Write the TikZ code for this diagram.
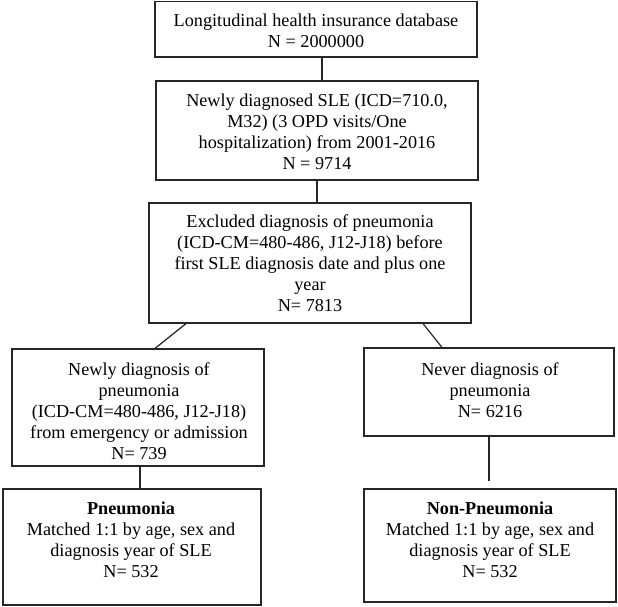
\documentclass[tikz,border=0pt]{standalone}
\usepackage{fontspec}
\setmainfont{Liberation Serif}
\begin{document}
\begin{tikzpicture}[x=1pt,y=-1pt,
  box/.style={draw=black!85, line width=1.2pt, inner sep=0pt, rectangle},
  txt/.style={align=center, font=\fontsize{18.2}{20.9}\selectfont, inner sep=0pt, text=black},
  conn/.style={draw=black!85, line width=1.2pt}]
\useasboundingbox (0,0) rectangle (618,606);
% boxes
\node[box, minimum width=322pt, minimum height=55.5pt] (b1) at (316,29.25) {};
\node[box, minimum width=322pt, minimum height=99pt]   (b2) at (317,130.5) {};
\node[box, minimum width=322pt, minimum height=120pt]  (b3) at (310,263) {};
\node[box, minimum width=252pt, minimum height=117pt]  (lc) at (138,407.5) {};
\node[box, minimum width=250pt, minimum height=88pt]   (rc) at (489,392) {};
\node[box, minimum width=258pt, minimum height=116pt]  (pn) at (132,547) {};
\node[box, minimum width=252pt, minimum height=113pt]  (np) at (490,545.5) {};
% texts
\node[txt] (t1) at (316,31) {Longitudinal health insurance database\\N = 2000000};
\node[txt] (t2) at (317,132) {Newly diagnosed SLE (ICD=710.0,\\M32) (3 OPD visits/One\\hospitalization) from 2001-2016\\N = 9714};
\node[txt] (t3) at (310,263) {Excluded diagnosis of pneumonia\\(ICD-CM=480-486, J12-J18) before\\first SLE diagnosis date and plus one\\year\\N= 7813};
\node[txt] (tl) at (139,411) {Newly diagnosis of\\pneumonia\\(ICD-CM=480-486, J12-J18)\\from emergency or admission\\N= 739};
\node[txt] (tr) at (490,390) {Never diagnosis of\\pneumonia\\N= 6216};
\node[txt] (tp) at (131,540) {\textbf{Pneumonia}\\Matched 1:1 by age, sex and\\diagnosis year of SLE\\N= 532};
\node[txt] (tn) at (490,540) {\textbf{Non-Pneumonia}\\Matched 1:1 by age, sex and\\diagnosis year of SLE\\N= 532};
% connectors
\draw[conn] ([xshift=6pt]b1.south) -- ([xshift=6pt]b1.south |- b2.north);
\draw[conn] (b2.south) -- (b2.south |- b3.north);
\draw[conn] ([xshift=-124pt]b3.south) -- ([xshift=17pt]lc.north);
\draw[conn] ([xshift=113pt]b3.south) -- ([xshift=-47pt]rc.north);
\draw[conn] ([xshift=2pt]lc.south) -- ([xshift=2pt]lc.south |- pn.north);
\draw[conn, shorten >=7pt] (rc.south) -- (rc.south |- np.north);
\end{tikzpicture}
\end{document}
